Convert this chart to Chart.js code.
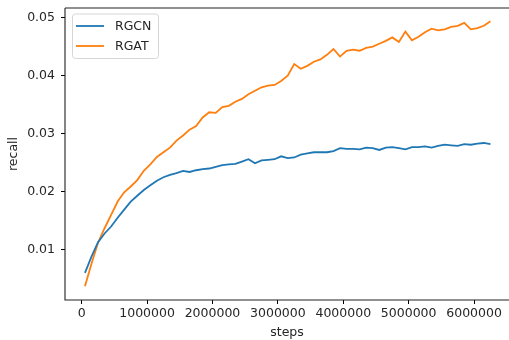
<!DOCTYPE html>
<html>
<head>
<meta charset="utf-8">
<script src="https://cdn.jsdelivr.net/npm/chart.js@4/dist/chart.umd.min.js"></script>
<style>
  html, body { margin: 0; padding: 0; background: #fff; overflow: hidden; }
  canvas { display: block; }
</style>
</head>
<body>
<canvas id="c" width="509" height="340"></canvas>
<script>
// ---- data ----
const steps = [
  50000, 150000, 250000, 350000, 450000, 550000, 650000, 750000, 850000, 950000,
  1050000, 1150000, 1250000, 1350000, 1450000, 1550000, 1650000, 1750000, 1850000, 1950000,
  2050000, 2150000, 2250000, 2350000, 2450000, 2550000, 2650000, 2750000, 2850000, 2950000,
  3050000, 3150000, 3250000, 3350000, 3450000, 3550000, 3650000, 3750000, 3850000, 3950000,
  4050000, 4150000, 4250000, 4350000, 4450000, 4550000, 4650000, 4750000, 4850000, 4950000,
  5050000, 5150000, 5250000, 5350000, 5450000, 5550000, 5650000, 5750000, 5850000, 5950000,
  6050000, 6150000, 6250000
];
const rgcn = [
  0.0060, 0.0088, 0.0113, 0.0128, 0.0140, 0.0155, 0.0169, 0.0183, 0.0193, 0.0203,
  0.0211, 0.0219, 0.0225, 0.0229, 0.0232, 0.0236, 0.0234, 0.0237, 0.0239, 0.0240,
  0.0243, 0.0246, 0.0247, 0.0248, 0.0252, 0.0256, 0.0249, 0.0254, 0.0255, 0.0256,
  0.0261, 0.0258, 0.0259, 0.0264, 0.0266, 0.0268, 0.0268, 0.0268, 0.0270, 0.0275,
  0.0274, 0.0274, 0.0273, 0.0276, 0.0275, 0.0272, 0.0276, 0.0277, 0.0275, 0.0273,
  0.0277, 0.0277, 0.0278, 0.0276, 0.0279, 0.0281, 0.0280, 0.0279, 0.0282, 0.0281,
  0.0283, 0.0284, 0.0282
];
const rgat = [
  0.0037, 0.0076, 0.0112, 0.0137, 0.0160, 0.0183, 0.0199, 0.0209, 0.0220, 0.0236,
  0.0247, 0.0260, 0.0268, 0.0276, 0.0288, 0.0297, 0.0307, 0.0313, 0.0328, 0.0337,
  0.0336, 0.0346, 0.0348, 0.0355, 0.0360, 0.0368, 0.0374, 0.0380, 0.0383, 0.0384,
  0.0391, 0.0400, 0.0420, 0.0412, 0.0417, 0.0424, 0.0428, 0.0436, 0.0446, 0.0433,
  0.0443, 0.0445, 0.0443, 0.0448, 0.0450, 0.0455, 0.0460, 0.0466, 0.0458, 0.0476,
  0.0461, 0.0467, 0.0475, 0.0481, 0.0478, 0.0480, 0.0484, 0.0486, 0.0491, 0.0480,
  0.0482, 0.0486, 0.0494
];
const seriesNames = ['RGCN', 'RGAT'];
const xTicks = [0, 1000000, 2000000, 3000000, 4000000, 5000000, 6000000];
const yTicks = [0.01, 0.02, 0.03, 0.04, 0.05];
const yTickLabels = ['0.01', '0.02', '0.03', '0.04', '0.05'];
const xTitle = 'steps';
const yTitle = 'recall';

// ---- styling ----
const FONT = 'DejaVu Sans';
const FSIZE = 12.5;
const TXT = '#262626';
const colors = ['#1f77b4', '#ff7f0e'];

// spines: left, top, bottom (the right spine is cropped off in the reference)
const framePlugin = {
  id: 'frame',
  afterDatasetsDraw(chart) {
    const { ctx, chartArea: a, width } = chart;
    ctx.save();
    ctx.strokeStyle = '#222';
    ctx.lineWidth = 1.1;
    ctx.beginPath();
    ctx.moveTo(a.left, a.top);
    ctx.lineTo(width, a.top);
    ctx.moveTo(a.left, a.top);
    ctx.lineTo(a.left, a.bottom);
    ctx.lineTo(width, a.bottom);
    ctx.stroke();
    ctx.restore();
  }
};

const legendPlugin = {
  id: 'mplLegend',
  afterDraw(chart) {
    const { ctx } = chart;
    const bx = 72.5, by = 14, bw = 86, bh = 44.5, r = 3;
    ctx.save();
    ctx.beginPath();
    ctx.moveTo(bx + r, by);
    ctx.lineTo(bx + bw - r, by);
    ctx.arcTo(bx + bw, by, bx + bw, by + r, r);
    ctx.lineTo(bx + bw, by + bh - r);
    ctx.arcTo(bx + bw, by + bh, bx + bw - r, by + bh, r);
    ctx.lineTo(bx + r, by + bh);
    ctx.arcTo(bx, by + bh, bx, by + bh - r, r);
    ctx.lineTo(bx, by + r);
    ctx.arcTo(bx, by, bx + r, by, r);
    ctx.closePath();
    ctx.fillStyle = 'rgba(255,255,255,0.85)';
    ctx.fill();
    ctx.strokeStyle = '#d6d6d6';
    ctx.lineWidth = 1;
    ctx.stroke();
    chart.data.datasets.forEach((ds, i) => {
      const y = 26 + i * 20;
      ctx.beginPath();
      ctx.moveTo(76, y);
      ctx.lineTo(104, y);
      ctx.strokeStyle = ds.borderColor;
      ctx.lineWidth = 1.8;
      ctx.stroke();
      ctx.fillStyle = TXT;
      ctx.font = FSIZE + 'px "' + FONT + '"';
      ctx.textBaseline = 'middle';
      ctx.textAlign = 'left';
      ctx.fillText(ds.label, 115, y + 0.5);
    });
    ctx.restore();
  }
};

const mkPoints = (vals) => steps.map((s, i) => ({ x: s, y: vals[i] }));

new Chart(document.getElementById('c'), {
  type: 'line',
  data: {
    datasets: [
      { label: seriesNames[0], data: mkPoints(rgcn), borderColor: colors[0], backgroundColor: colors[0],
        borderWidth: 1.8, pointRadius: 0, tension: 0, fill: false },
      { label: seriesNames[1], data: mkPoints(rgat), borderColor: colors[1], backgroundColor: colors[1],
        borderWidth: 1.8, pointRadius: 0, tension: 0, fill: false }
    ]
  },
  options: {
    responsive: false,
    animation: false,
    devicePixelRatio: 1,
    layout: { padding: { left: 0, right: 0, top: 8, bottom: 0 } },
    plugins: { legend: { display: false }, tooltip: { enabled: false } },
    scales: {
      x: {
        type: 'linear',
        min: -255000,
        max: 6534000,
        afterBuildTicks: (s) => { s.ticks = xTicks.map(v => ({ value: v })); },
        afterFit: (s) => { s.height = 40; s.paddingRight = 0; s.paddingLeft = 0; },
        ticks: {
          color: TXT, font: { family: FONT, size: FSIZE }, padding: 2,
          maxRotation: 0, autoSkip: false,
          callback: (v) => String(v)
        },
        grid: { display: true, drawOnChartArea: false, drawTicks: true, tickLength: 4, color: '#000', lineWidth: 1 },
        border: { display: false },
        title: { display: true, text: xTitle, color: TXT, font: { family: FONT, size: FSIZE }, padding: 0 }
      },
      y: {
        type: 'linear',
        min: 0.00133,
        max: 0.05167,
        afterBuildTicks: (s) => { s.ticks = yTicks.map(v => ({ value: v })); },
        afterFit: (s) => { s.width = 65; s.paddingTop = 0; s.paddingBottom = 0; },
        ticks: {
          color: TXT, font: { family: FONT, size: FSIZE }, padding: 6, autoSkip: false,
          callback: (v) => { const i = yTicks.indexOf(v); return i >= 0 ? yTickLabels[i] : ''; }
        },
        grid: { display: true, drawOnChartArea: false, drawTicks: true, tickLength: 4, color: '#000', lineWidth: 1 },
        border: { display: false },
        title: { display: true, text: yTitle, color: TXT, font: { family: FONT, size: FSIZE }, padding: 6 }
      }
    }
  },
  plugins: [framePlugin, legendPlugin]
});
</script>
</body>
</html>
